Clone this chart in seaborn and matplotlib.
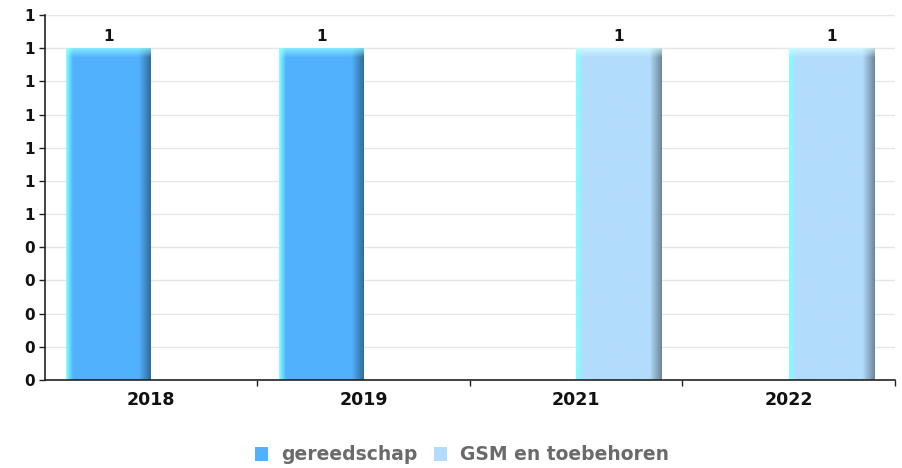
import numpy as np
import pandas as pd
import matplotlib
matplotlib.use("Agg")
import matplotlib.pyplot as plt
import matplotlib.colors as mcolors
from matplotlib.ticker import FixedLocator, FuncFormatter
from matplotlib.patches import Patch
import seaborn as sns

categories = ["2018", "2019", "2021", "2022"]
series_names = ["gereedschap", "GSM en toebehoren"]
gereedschap = [1, 1, 0, 0]
gsm = [0, 0, 1, 1]
colors = ["#52b1fd", "#b3dcfc"]
y_ticks = [0.0, 0.1, 0.2, 0.3, 0.4, 0.5, 0.6, 0.7, 0.8, 0.9, 1.0, 1.1]

df = pd.DataFrame({
    "jaar": categories * 2,
    "serie": [series_names[0]] * 4 + [series_names[1]] * 4,
    "waarde": gereedschap + gsm,
})

sns.set_theme(style="white")
plt.rcParams["font.family"] = ["DejaVu Sans"]

fig = plt.figure(figsize=(9.03, 4.68), dpi=100)
ax = fig.add_axes([45 / 903, (468 - 380) / 468, (895 - 45) / 903, (380 - 15) / 468])

sns.barplot(data=df, x="jaar", y="waarde", hue="serie", palette=colors,
            order=categories, hue_order=series_names, ax=ax, width=0.8,
            linewidth=0, legend=False, saturation=1)

ax.set_xlim(-0.5, len(categories) - 0.5)
ax.set_ylim(0, 1.1)

# gradient shading of bars (derived from the seaborn patches)
for p in list(ax.patches):
    h = p.get_height()
    if h <= 0:
        p.set_visible(False)
        continue
    x0, w = p.get_x(), p.get_width()
    base = np.array(mcolors.to_rgb(p.get_facecolor()))
    nx, ny = 80, 300
    cyan = np.array([0.5, 1.0, 1.0])
    dark = base * 0.62
    img = np.zeros((ny, nx, 3))
    for i in range(nx):
        tt = i / (nx - 1)
        if tt < 0.08:
            a = tt / 0.08
            c = cyan * (1 - a) + base * a
        elif tt > 0.86:
            a = (tt - 0.86) / 0.14
            c = base * (1 - a) + dark * a
        else:
            c = base
        img[:, i] = c
    # top bevel: lighter band
    top_rows = 8
    for j in range(top_rows):
        a = 1 - j / top_rows
        light = np.array([0.6, 1.0, 1.0]) if base[0] < 0.5 else np.array([0.85, 1.0, 1.0])
        img[j, :] = img[j, :] * (1 - 0.7 * a) + light * 0.7 * a
    im = ax.imshow(img, extent=(x0, x0 + w, 0, h), aspect="auto", origin="upper",
                   zorder=p.get_zorder() + 0.1, interpolation="bilinear")
    im.set_clip_path(p)
    ax.annotate("1" if h >= 0.5 else "0", (x0 + w / 2, h), xytext=(0, 3),
                textcoords="offset points", ha="center", va="bottom",
                fontsize=11, fontweight="bold", color="#111111")

ax.set_aspect("auto")
ax.set_xlim(-0.5, len(categories) - 0.5)
ax.set_ylim(0, 1.1)

ax.yaxis.set_major_locator(FixedLocator(y_ticks))
ax.yaxis.set_major_formatter(FuncFormatter(lambda v, pos: str(int(np.floor(v + 0.5 + 1e-9)))))
ax.grid(axis="y", color="#e6e6e6", linewidth=1)
ax.set_axisbelow(True)

ax.set_xticks(range(len(categories)))
ax.set_xticklabels(categories)
ax.xaxis.set_minor_locator(FixedLocator([0.5, 1.5, 2.5, 3.5]))
ax.tick_params(axis="x", which="major", length=0, pad=8, labelsize=12.5)
ax.tick_params(axis="x", which="minor", length=4, width=1, color="#222222", direction="out", bottom=True)
ax.tick_params(axis="y", length=4, width=1, color="#222222", direction="out", left=True, labelsize=11, pad=3)
for lbl in ax.get_xticklabels() + ax.get_yticklabels():
    lbl.set_fontweight("bold")
    lbl.set_color("#111111")

ax.set_xlabel("")
ax.set_ylabel("")
for s in ["top", "right"]:
    ax.spines[s].set_visible(False)
for s in ["left", "bottom"]:
    ax.spines[s].set_color("#222222")
    ax.spines[s].set_linewidth(1.2)

handles = [Patch(facecolor=c, edgecolor="none") for c in colors]
leg = fig.legend(handles, series_names, loc="center", bbox_to_anchor=(462 / 903, 1 - 455 / 468),
                 ncol=2, frameon=False, handlelength=0.7, handleheight=0.7, handletextpad=0.7,
                 columnspacing=0.9, prop={"weight": "bold", "size": 13.5})
for t in leg.get_texts():
    t.set_color("#6a6a6a")

fig.savefig("out.png", dpi=100)
